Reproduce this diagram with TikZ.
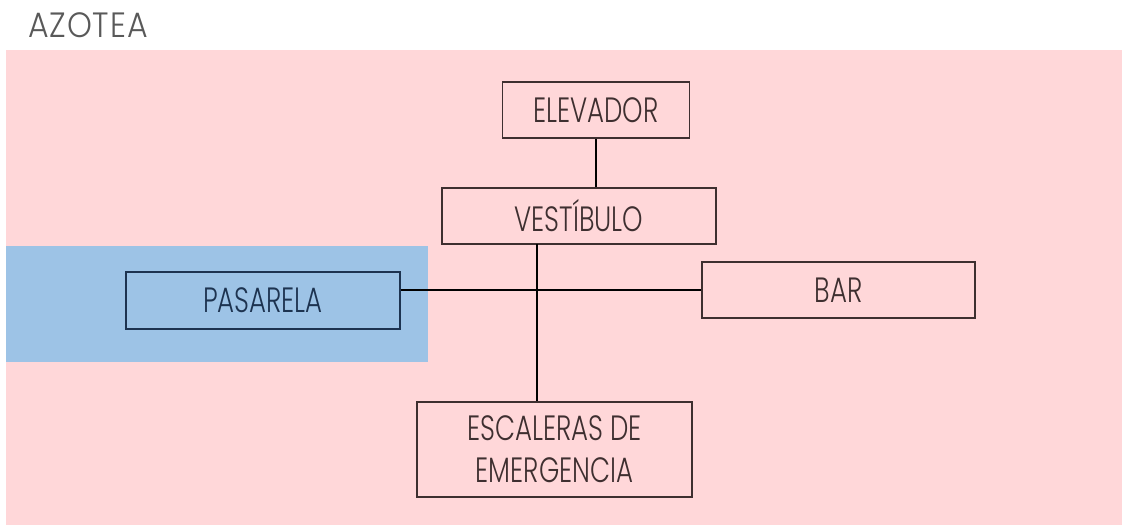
\documentclass[tikz,border=0pt]{standalone}
\usepackage{fontspec}
\setmainfont{Poppins}[UprightFont=*-Light, FakeStretch=0.74]
\newfontfamily\titlefont{Poppins}[UprightFont=*-Light, FakeStretch=0.9]
\usepackage{tikz}
\definecolor{roofpink}{HTML}{FFD7D9}
\definecolor{walkblue}{HTML}{9DC3E6}
\definecolor{inkbrown}{HTML}{3E2F30}
\definecolor{inknavy}{HTML}{1D3350}
\tikzstyle{room}=[rectangle, draw=inkbrown, line width=1pt, text=inkbrown, font=\fontsize{20}{23}\selectfont, align=center, inner sep=0pt]
\tikzstyle{link}=[draw=black, line width=1pt]

\begin{document}
\begin{tikzpicture}[x=0.02cm, y=-0.02cm]
        \useasboundingbox (0,0) rectangle (1122,525);
        % zones
        \fill[roofpink] (6,50) rectangle (1122,525);
        \fill[walkblue] (6,246) rectangle (428,362);
        \node[anchor=base west, text=black!65, font=\titlefont\fontsize{20}{23}\selectfont] (title) at (22,37) {A\kern0.5pt Z\kern0.5pt O\kern0.5pt T\kern0.5pt E\kern0.5pt A};

        % rooms
        \node[room, minimum width=3.74cm, minimum height=1.12cm] (elev) at (596,110) {ELEVADOR};
        \node[room, minimum width=5.48cm, minimum height=1.12cm] (vest) at (579,216) {VESTÍBULO};
        \node[room, minimum width=5.46cm, minimum height=1.12cm] (bar) at (838.5,290) {BAR};
        \node[room, draw=inknavy, text=inknavy, minimum width=5.48cm, minimum height=1.14cm] (pas) at (263,300.5) {PASARELA};
        \node[room, minimum width=5.5cm, minimum height=1.9cm] (esc) at (554.5,449.5) {ESCALERAS DE\\[1pt]EMERGENCIA};

        % connections
        \coordinate (stair) at (537,244);
        \draw[link] (elev.south) -- (elev.south |- vest.north);
        \draw[link] (stair) -- (stair |- esc.north);
        \draw[link] (pas.east |- bar.west) -- (bar.west);
    \end{tikzpicture}
\end{document}
